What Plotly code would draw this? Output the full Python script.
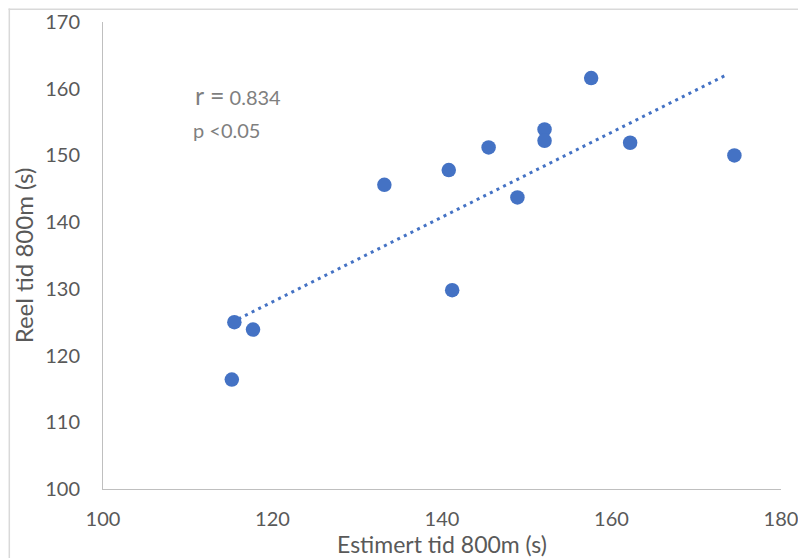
import numpy as np
import plotly.graph_objects as go

# Data
estimert = [115.2, 115.5, 117.7, 133.2, 140.8, 141.2, 145.5, 148.9, 152.1, 152.1, 157.6, 162.2, 174.5]
reel = [116.4, 125.0, 123.9, 145.6, 147.8, 129.8, 151.2, 143.7, 153.9, 152.2, 161.6, 151.9, 150.0]
x_ticks = [100, 120, 140, 160, 180]
y_ticks = [100, 110, 120, 130, 140, 150, 160, 170]
r_label, r_value = "r =", "0.834"
p_text = "p <0.05"

x = np.array(estimert)
y = np.array(reel)
slope, intercept = np.polyfit(x, y, 1)
tx = np.array([x.min(), x.max() - 0.8])
ty = slope * tx + intercept

blue = "#4472C4"
font_family = "Lato, 'Open Sans', sans-serif"

fig = go.Figure()
fig.add_trace(go.Scatter(
    x=tx, y=ty, mode="lines",
    line=dict(color=blue, width=3, dash="3px,4.4px"),
    hoverinfo="skip", showlegend=False))
fig.add_trace(go.Scatter(
    x=estimert, y=reel, mode="markers",
    marker=dict(color=blue, size=14.5, line=dict(width=0)),
    showlegend=False))

axis_common = dict(
    showgrid=False, zeroline=False, showline=True,
    linecolor="#BFBFBF", linewidth=1, ticks="",
    tickfont=dict(family=font_family, size=20, color="#595959"),
)
fig.update_xaxes(range=[100, 180], tickvals=x_ticks, ticklabelstandoff=12,
                 title=dict(text="Estimert tid 800m (s)", standoff=2,
                            font=dict(family=font_family, size=23, color="#595959")),
                 **axis_common)
fig.update_yaxes(range=[100, 170], tickvals=y_ticks, ticklabelstandoff=18,
                 title=dict(text="Reel tid 800m (s)", standoff=4,
                            font=dict(family=font_family, size=24, color="#595959")),
                 **axis_common)

fig.add_annotation(x=110.6, y=156.5, xref="x", yref="y",
                   text=f'<span style="font-size:25px">{r_label}</span> {r_value}',
                   showarrow=False, xanchor="left", yanchor="bottom",
                   font=dict(family=font_family, size=20, color="#7F7F7F"))
fig.add_annotation(x=110.4, y=153.8, xref="x", yref="y", text=p_text,
                   showarrow=False, xanchor="left", yanchor="middle",
                   font=dict(family=font_family, size=20, color="#7F7F7F"))

# page body adds an 8px offset; figure sized so it fits the window
W, H = 798, 550
ml, mr, mt, mb = 94.5, 25, 13.5, 69
pw, ph = W - ml - mr, H - mt - mb
def px2paper_x(px):
    return (px - ml) / pw
def px2paper_y(py):
    return (H - mb - py) / ph
# chart-area border (cropped Excel frame)
fig.add_shape(type="line", xref="paper", yref="paper",
              x0=px2paper_x(0), x1=px2paper_x(W), y0=px2paper_y(0.75), y1=px2paper_y(0.75),
              line=dict(color="#D9D9D9", width=1.5))
fig.add_shape(type="line", xref="paper", yref="paper",
              x0=px2paper_x(0.75), x1=px2paper_x(0.75), y0=px2paper_y(0), y1=px2paper_y(H),
              line=dict(color="#D9D9D9", width=1.5))

fig.update_layout(
    width=W, height=H,
    margin=dict(l=ml, r=mr, t=mt, b=mb, autoexpand=False),
    paper_bgcolor="white", plot_bgcolor="white",
    font=dict(family=font_family, color="#595959"),
)

fig.write_html("out.html")
